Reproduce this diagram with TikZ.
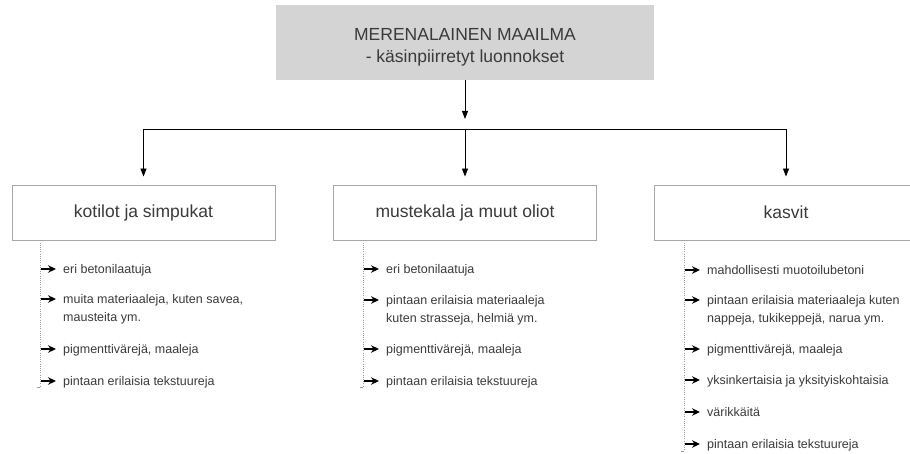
\documentclass[tikz,border=0pt]{standalone}
\usepackage{fontspec}
\setmainfont{Liberation Sans}
\usetikzlibrary{arrows.meta}

\definecolor{ink}{HTML}{3A3A3A}
\definecolor{frame}{HTML}{A8A8A8}
\definecolor{titlefill}{HTML}{D4D4D4}
\definecolor{dots}{HTML}{9A9A9A}

\tikzset{
    headbox/.style={draw=frame, line width=0.9pt, minimum width=263pt, minimum height=55pt,
      text=ink, font=\fontsize{17.5}{22}\selectfont},
    titlebox/.style={fill=titlefill, minimum width=378pt, minimum height=75pt, align=center,
      text=ink, font=\fontsize{17.5}{22}\selectfont},
    item/.style={anchor=north west, inner sep=0pt, align=left, text=ink,
      font=\fontsize{12.5}{18}\selectfont},
    link/.style={line width=0.9pt, -{Triangle[length=8pt,width=6pt]}},
    itemarrow/.style={line width=1.6pt, -{Stealth[length=8pt,width=7.5pt]}, shorten >=7pt},
    guide/.style={dots, line width=0.7pt, dash pattern=on 0.8pt off 1.4pt}
}

\begin{document}
\begin{tikzpicture}[x=1pt, y=-1pt]
    \useasboundingbox (0,0) rectangle (910,454);

    \node[titlebox] (world) at (465,42.5) {};
    \node[align=center, text=ink, font=\fontsize{17.5}{22}\selectfont] (worldtext) at (465,47)
      {MERENALAINEN MAAILMA\\- käsinpiirretyt luonnokset};

    \node[headbox] (shells) at (143.5,212.5) {kotilot ja simpukat};
    \node[headbox] (octopus) at (465,212.5) {mustekala ja muut oliot};
    \node[headbox] (plants) at (786,212.5) {kasvit};

    \coordinate (bus) at (465,129);
    \draw [link, shorten >=10pt] (world) -- (bus);
    \draw [line width=0.9pt] (bus -| shells) -- (bus -| plants);
    \foreach \b in {shells,octopus,plants}
      \draw [link, shorten >=8pt] (bus -| \b) -- (\b);

    % dotted guides under the boxes
    \coordinate (shells-end) at (40,387);
    \coordinate (octopus-end) at (363,387);
    \coordinate (plants-end) at (684,451);
    \foreach \b in {shells,octopus,plants} {
      \draw [guide] (\b.south -| \b-end) -- (\b-end);
      \draw [dots, line width=0.7pt] (\b-end) -- ++(-3,0);
    }

    \foreach \n/\y/\txt in {1/269/{eri betonilaatuja},
        2/299/{muita materiaaleja, kuten savea,\\mausteita ym.},
        3/349/{pigmenttivärejä, maaleja},
        4/381/{pintaan erilaisia tekstuureja}} {
      \coordinate (s\n) at (41,\y);
      \node[item] (st\n) at (63,\y-5) {\txt};
      \draw [itemarrow] (s\n) -- (st\n.west |- s\n);
    }

    \foreach \n/\y/\txt in {1/269/{eri betonilaatuja},
        2/300/{pintaan erilaisia materiaaleja\\kuten strasseja, helmiä ym.},
        3/349/{pigmenttivärejä, maaleja},
        4/381/{pintaan erilaisia tekstuureja}} {
      \coordinate (o\n) at (364,\y);
      \node[item] (ot\n) at (386,\y-5) {\txt};
      \draw [itemarrow] (o\n) -- (ot\n.west |- o\n);
    }

    \foreach \n/\y/\txt in {1/270/{mahdollisesti muotoilubetoni},
        2/300/{pintaan erilaisia materiaaleja kuten\\nappeja, tukikeppejä, narua ym.},
        3/349/{pigmenttivärejä, maaleja},
        4/380/{yksinkertaisia ja yksityiskohtaisia},
        5/412/{värikkäitä},
        6/444/{pintaan erilaisia tekstuureja}} {
      \coordinate (p\n) at (685,\y);
      \node[item] (pt\n) at (707,\y-5) {\txt};
      \draw [itemarrow] (p\n) -- (pt\n.west |- p\n);
    }

\end{tikzpicture}
\end{document}
